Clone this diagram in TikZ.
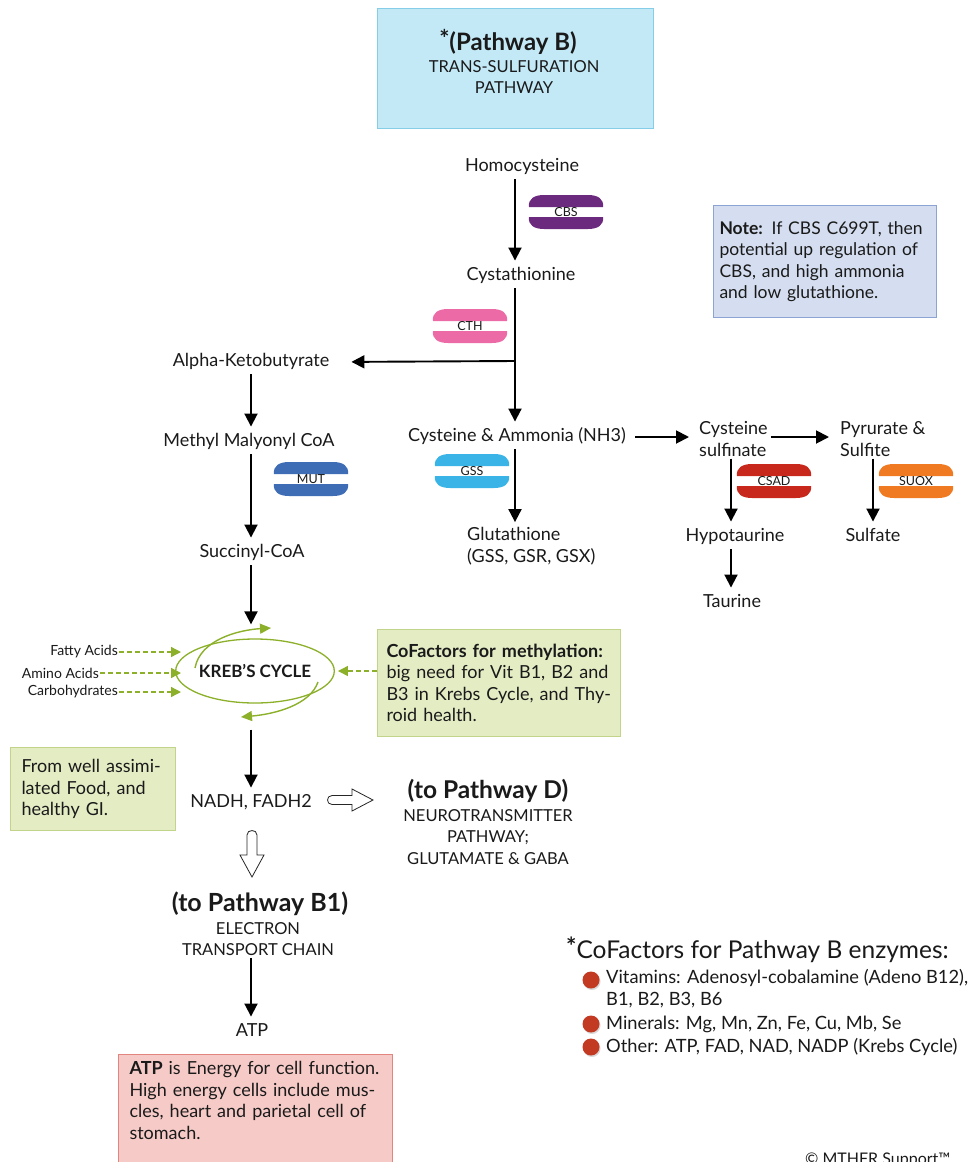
\documentclass[tikz,border=0pt]{standalone}
\usepackage{fontspec}
\setmainfont{Lato}
\usetikzlibrary{arrows.meta,calc,shapes.geometric}
\newcommand\fsz[2]{\fontsize{#1}{#2}\selectfont}
\definecolor{cbscol}{HTML}{6B2A7E}
\definecolor{cthcol}{HTML}{EC6AA6}
\definecolor{gsscol}{HTML}{3AB4E6}
\definecolor{mutcol}{HTML}{3E6DB5}
\definecolor{csadcol}{HTML}{C8281C}
\definecolor{suoxcol}{HTML}{F07A22}
\definecolor{kgreen}{HTML}{8CB02A}
\definecolor{topfill}{HTML}{C3E9F7}
\definecolor{topdraw}{HTML}{86CDE8}
\definecolor{notefill}{HTML}{D4DEF0}
\definecolor{notedraw}{HTML}{8BA4D3}
\definecolor{gfill}{HTML}{E4ECC4}
\definecolor{gdraw}{HTML}{C2D38A}
\definecolor{afill}{HTML}{F6CBC7}
\definecolor{adraw}{HTML}{E2857F}
\definecolor{bulletcol}{HTML}{C23A22}
\definecolor{txt}{HTML}{1A1A1A}
\newcommand\Enzyme[5]{%
  \begin{scope}[shift={(#2,#3)}]
    \fill[#4] (-37,-5) .. controls (-38,-13) and (-32,-17) .. (-22,-17) -- (22,-17) .. controls (32,-17) and (38,-13) .. (37,-5) -- cycle;
    \fill[#4] (-37,5) .. controls (-38,13) and (-32,17) .. (-22,17) -- (22,17) .. controls (32,17) and (38,13) .. (37,5) -- cycle;
  \end{scope}
  \node[font=\fsz{12.5}{14}, text=txt, inner sep=0pt] (#1) at (#2,#3) {#5};}
\begin{document}
\begin{tikzpicture}[x=1pt,y=-1pt,
  lbl/.style={font=\fsz{18}{21.5}, text=txt, text height=12.5pt, text depth=4pt, inner xsep=2pt, inner ysep=4pt},
  mlbl/.style={font=\fsz{18}{21.5}, text=txt, align=left, inner sep=2pt},
  arr/.style={line width=1.9pt, -{Triangle[width=13pt,length=13pt]}, shorten >=3pt},
  garr/.style={draw=kgreen, line width=1.3pt, dash pattern=on 5pt off 3pt, -{Triangle[width=10pt,length=10pt]}},
  gcurve/.style={draw=kgreen, line width=1.4pt, -{Triangle[width=10pt,length=11pt]}},
  hollow/.style={draw=black!85, line width=0.8pt, fill=white},
  boxtxt/.style={font=\fsz{18}{21.5}, text=txt, align=left, inner xsep=9pt, inner ysep=6pt},
  small/.style={font=\fsz{14}{16}, text=txt, inner sep=1pt}
]
\useasboundingbox (0,0) rectangle (972,1162);
\fill[white] (0,0) rectangle (972,1162);

% title box
\node[draw=topdraw, fill=topfill, line width=1pt, minimum width=276pt, minimum height=120pt, anchor=north west, inner sep=0pt] (topbox) at (377,8) {};
\node[font=\fsz{24}{26}\bfseries, text=txt] (toptitle) at (508,42) {\raisebox{3pt}{*}(Pathway B)};
\node[font=\fsz{16.5}{20.5}, text=txt, align=center] (topsub) at (514,77) {TRANS-SULFURATION\\PATHWAY};

% note box
\node[boxtxt, font=\fsz{17.5}{21.5}, draw=notedraw, fill=notefill, line width=1pt, anchor=north west, minimum width=223pt, minimum height=112pt, text width=211pt, inner xsep=6pt] (note) at (713,205)
  {\textbf{Note:} If CBS C699T, then\\potential up regulation of\\CBS, and high ammonia\\and low glutathione.};

% main column
\coordinate (tx) at (515,0);
\coordinate (lx) at (251,0);
\node[lbl] (homo) at (522,167) {Homocysteine};
\node[lbl] (cyst) at (521,276) {Cystathionine};
\node[lbl] (alpha) at (251,362) {Alpha-Ketobutyrate};
\node[lbl] (cam) at (517,437) {Cysteine \& Ammonia (NH3)};
\node[mlbl, anchor=west] (sulf) at (697,439) {Cysteine\\sulfinate};
\node[mlbl, anchor=west] (pyr) at (838,439) {Pyrurate \&\\Sulfite};
\node[mlbl, anchor=west] (glut) at (465,546) {Glutathione\\(GSS, GSR, GSX)};
\node[lbl] (hypo) at (735,537) {Hypotaurine};
\node[lbl] (taur) at (732,603) {Taurine};
\node[lbl] (sulfate) at (873,537) {Sulfate};
\node[lbl] (methyl) at (249,442) {Methyl Malyonyl CoA};
\node[lbl] (succ) at (252,553) {Succinyl-CoA};

\Enzyme{cbs}{566}{212}{cbscol}{CBS}
\Enzyme{cth}{470}{326}{cthcol}{CTH}
\Enzyme{gss}{472}{471}{gsscol}{GSS}
\Enzyme{mut}{311}{479}{mutcol}{MUT}
\Enzyme{csad}{774}{481}{csadcol}{CSAD}
\Enzyme{suox}{916}{481}{suoxcol}{SUOX}

\coordinate (br) at (515,361);
\draw[arr] (homo.south -| tx) -- (cyst.north -| tx);
\draw[arr] (cyst.south -| tx) -- (cam.north -| tx);
\draw[arr, shorten >=20pt] (br) -- (alpha.east);
\draw[arr] (cam.south -| tx) -- (glut.north -| tx);
\draw[arr, shorten <=7pt, shorten >=8pt] (cam.east) -- (sulf.west |- cam.east);
\draw[arr, shorten <=1pt, shorten >=9pt] (sulf.east |- cam.east) -- (pyr.west |- cam.east);
\coordinate (sx) at (731,0);
\coordinate (px) at (873,0);
\draw[arr] (sulf.south -| sx) -- (hypo.north -| sx);
\draw[arr] (hypo.south -| sx) -- (taur.north -| sx);
\draw[arr] (pyr.south -| px) -- (sulfate.north -| px);
\draw[arr] (alpha.south -| lx) -- (methyl.north -| lx);
\draw[arr] (methyl.south -| lx) -- (succ.north -| lx);

% Kreb's cycle
\node[ellipse, draw=kgreen, line width=1.3pt, minimum width=126pt, minimum height=64pt, inner sep=0pt, font=\fsz{17}{19}\bfseries, text=txt] (kreb) at (255,671) {KREB’S CYCLE};
\draw[gcurve] (195,668) .. controls (200,640) and (238,630) .. (271,628);
\draw[gcurve] (318,682) .. controls (310,705) and (275,714) .. (241,717);
\draw[arr, shorten >=14pt] (succ.south -| lx) -- (kreb.north -| lx);

\coordinate (kin) at (181,0);
\node[small, anchor=east] (fatty) at (119,652) {Fatty Acids};
\node[small, anchor=east] (amino) at (100,673) {Amino Acids};
\node[small, anchor=east] (carb) at (119,692) {Carbohydrates};
\draw[garr] (fatty.east) -- (fatty.east -| kin);
\draw[garr] (amino.east) -- (amino.east -| kin);
\draw[garr] (carb.east) -- (carb.east -| kin);

\node[boxtxt, draw=gdraw, fill=gfill, line width=1pt, anchor=north west, minimum width=243pt, minimum height=107pt, text width=225pt] (cof) at (377,629)
  {\textbf{CoFactors for methylation:}\\big need for Vit B1, B2 and\\B3 in Krebs Cycle, and Thy-\\roid health.};
\draw[garr, shorten >=3pt] (cof.west |- kreb.east) -- (kreb.east);

\node[boxtxt, draw=gdraw, fill=gfill, line width=1pt, anchor=north west, minimum width=161pt, minimum height=83pt, text width=143pt, inner xsep=11pt] (food) at (10,747)
  {From well assimi-\\lated Food, and\\healthy GI.};

\node[lbl] (nadh) at (251,803) {NADH, FADH2};
\draw[arr, shorten <=26pt] (kreb.south -| lx) -- (nadh.north -| lx);

% hollow arrows
\draw[hollow] (332,795.5) -- (352,795.5) -- (352,789) -- (373,800) -- (352,811) -- (352,804.5) -- (332,804.5) .. controls (326,804.5) and (326,795.5) .. (332,795.5) -- cycle;
\draw[hollow] (247,835) -- (247,855) -- (240,855) -- (252,877) -- (264,855) -- (257,855) -- (257,835) .. controls (257,829) and (247,829) .. (247,835) -- cycle;

\node[font=\fsz{24.5}{26}\bfseries, text=txt] (dtitle) at (488,791) {(to Pathway D)};
\node[font=\fsz{16.5}{21.5}, text=txt, align=center] (dsub) at (488,837) {NEUROTRANSMITTER\\PATHWAY;\\GLUTAMATE \& GABA};

\node[font=\fsz{25}{27}\bfseries, text=txt] (btitle) at (260,904) {(to Pathway B1)};
\node[font=\fsz{16.5}{21.5}, text=txt, align=center, inner sep=2pt] (bsub) at (258,939) {ELECTRON\\TRANSPORT CHAIN};
\node[lbl] (atp) at (252,1032) {ATP};
\draw[arr] (bsub.south -| lx) -- (atp.north -| lx);

\node[boxtxt, draw=adraw, fill=afill, line width=1pt, anchor=north west, minimum width=274pt, text width=252pt, inner xsep=11pt, inner ysep=7pt] (atpnote) at (118,1054)
  {\textbf{ATP} is Energy for cell function.\\High energy cells include mus-\\cles, heart and parietal cell of\\stomach.\rule[-30pt]{0pt}{0pt}};

% legend
\node[font=\fsz{24.5}{27}, text=txt, anchor=west, inner sep=0pt] (legtitle) at (566,950) {\raisebox{3pt}{\bfseries *}CoFactors for Pathway B enzymes:};
\node[font=\fsz{18.3}{22}, text=txt, anchor=north west, align=left, inner sep=0pt] (leg1) at (606,969) {Vitamins: Adenosyl-cobalamine (Adeno B12),\\B1, B2, B3, B6};
\node[font=\fsz{18.3}{22}, text=txt, anchor=west, inner sep=0pt] (leg2) at (606,1024) {Minerals: Mg, Mn, Zn, Fe, Cu, Mb, Se};
\node[font=\fsz{18.3}{22}, text=txt, anchor=west, inner sep=0pt] (leg3) at (606,1047) {Other: ATP, FAD, NAD, NADP (Krebs Cycle)};
\foreach \yy/\nm in {980/b1, 1024/b2, 1047/b3}{
  \fill[black!15] (592,\yy+1.5) circle (8.5pt);
  \node[circle, fill=bulletcol, minimum size=17pt, inner sep=0pt] (\nm) at (591,\yy) {};
}

\node[font=\fsz{16}{18}, text=txt, anchor=north west, inner sep=0pt] (copy) at (805,1153) {© MTHFR Support™};
\end{tikzpicture}
\end{document}
